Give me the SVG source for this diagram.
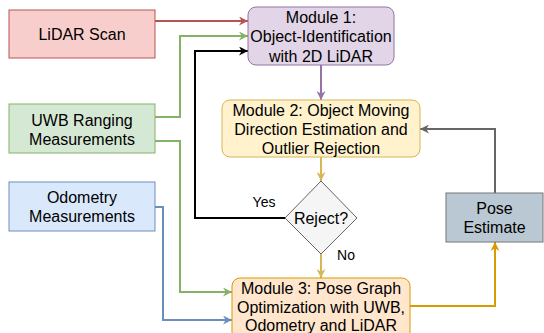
<svg xmlns="http://www.w3.org/2000/svg" width="544" height="333" viewBox="0 0 544 333">
<style>
text{font-family:"Liberation Sans",Arial,sans-serif;font-size:16px;fill:#000;text-anchor:middle}
.lbl{font-size:14px}
.c{fill:none;stroke-width:2}
</style>
<defs>
<marker id="aR" viewBox="0 0 10 10" refX="10" refY="5" markerWidth="10" markerHeight="9" markerUnits="userSpaceOnUse" orient="auto"><path d="M0,0L10,5L0,10L3,5z" fill="#b85450"/></marker>
<marker id="aG" viewBox="0 0 10 10" refX="10" refY="5" markerWidth="10" markerHeight="9" markerUnits="userSpaceOnUse" orient="auto"><path d="M0,0L10,5L0,10L3,5z" fill="#82b366"/></marker>
<marker id="aK" viewBox="0 0 10 10" refX="10" refY="5" markerWidth="10" markerHeight="9" markerUnits="userSpaceOnUse" orient="auto"><path d="M0,0L10,5L0,10L3,5z" fill="#000"/></marker>
<marker id="aB" viewBox="0 0 10 10" refX="10" refY="5" markerWidth="10" markerHeight="9" markerUnits="userSpaceOnUse" orient="auto"><path d="M0,0L10,5L0,10L3,5z" fill="#6c8ebf"/></marker>
<marker id="aP" viewBox="0 0 10 10" refX="10" refY="5" markerWidth="10" markerHeight="9" markerUnits="userSpaceOnUse" orient="auto"><path d="M0,0L10,5L0,10L3,5z" fill="#9673a6"/></marker>
<marker id="aY" viewBox="0 0 10 10" refX="10" refY="5" markerWidth="10" markerHeight="9" markerUnits="userSpaceOnUse" orient="auto"><path d="M0,0L10,5L0,10L3,5z" fill="#d6b656"/></marker>
<marker id="aO" viewBox="0 0 10 10" refX="10" refY="5" markerWidth="10" markerHeight="9" markerUnits="userSpaceOnUse" orient="auto"><path d="M0,0L10,5L0,10L3,5z" fill="#d79b00"/></marker>
<marker id="aS" viewBox="0 0 10 10" refX="10" refY="5" markerWidth="10" markerHeight="9" markerUnits="userSpaceOnUse" orient="auto"><path d="M0,0L10,5L0,10L3,5z" fill="#666666"/></marker>
</defs>
<g id="connectors">
<path class="c" stroke="#b85450" d="M155,21H248" marker-end="url(#aR)"/>
<path class="c" stroke="#82b366" d="M155,117H180V36H248" marker-end="url(#aG)"/>
<path class="c" stroke="#000" d="M285,218H195V51H248" marker-end="url(#aK)"/>
<path class="c" stroke="#82b366" d="M155,141H180V292H232" marker-end="url(#aG)"/>
<path class="c" stroke="#6c8ebf" d="M155,207H163V320H232" marker-end="url(#aB)"/>
<path class="c" stroke="#9673a6" d="M321,65V100" marker-end="url(#aP)"/>
<path class="c" stroke="#d6b656" d="M321,157V181" marker-end="url(#aY)"/>
<path class="c" stroke="#d6b656" d="M321,254V278" marker-end="url(#aY)"/>
<path class="c" stroke="#d79b00" d="M410,306H495V242" marker-end="url(#aO)"/>
<path class="c" stroke="#666666" d="M495,193V129H420" marker-end="url(#aS)"/>
<text class="lbl" x="264" y="207">Yes</text>
<text class="lbl" x="346" y="260">No</text>
</g>
<g id="lidar">
<rect x="9" y="10" width="146" height="48" fill="#f8cecc" stroke="#b85450"/>
<text x="82" y="40">LiDAR Scan</text>
</g>
<g id="uwb">
<rect x="9" y="104" width="146" height="49" fill="#d5e8d4" stroke="#82b366"/>
<text x="82" y="126">UWB Ranging</text>
<text x="82" y="145">Measurements</text>
</g>
<g id="odometry">
<rect x="9" y="182" width="146" height="49" fill="#dae8fc" stroke="#6c8ebf"/>
<text x="82" y="203">Odometry</text>
<text x="82" y="222">Measurements</text>
</g>
<g id="module1">
<rect x="248" y="7" width="146" height="58" rx="8" fill="#e1d5e7" stroke="#9673a6"/>
<text x="321" y="23">Module 1:</text>
<text x="321" y="42">Object-Identification</text>
<text x="321" y="62">with 2D LiDAR</text>
</g>
<g id="module2">
<rect x="222" y="100" width="198" height="57" rx="8" fill="#fff2cc" stroke="#d6b656"/>
<text x="321" y="116">Module 2: Object Moving</text>
<text x="321" y="135">Direction Estimation and</text>
<text x="321" y="154">Outlier Rejection</text>
</g>
<g id="reject">
<path d="M321,181L357,218L321,254L285,218z" fill="#f5f5f5" stroke="#666666"/>
<text x="321" y="224" fill="#333">Reject?</text>
</g>
<g id="module3">
<rect x="232" y="278" width="178" height="62" rx="8" fill="#ffe6cc" stroke="#d79b00"/>
<text x="321" y="294">Module 3: Pose Graph</text>
<text x="321" y="313">Optimization with UWB,</text>
<text x="321" y="331">Odometry and LiDAR</text>
</g>
<g id="pose">
<rect x="446" y="193" width="97" height="49" fill="#bac8d3" stroke="#777777"/>
<text x="494.5" y="214">Pose</text>
<text x="494.5" y="233">Estimate</text>
</g>
</svg>
